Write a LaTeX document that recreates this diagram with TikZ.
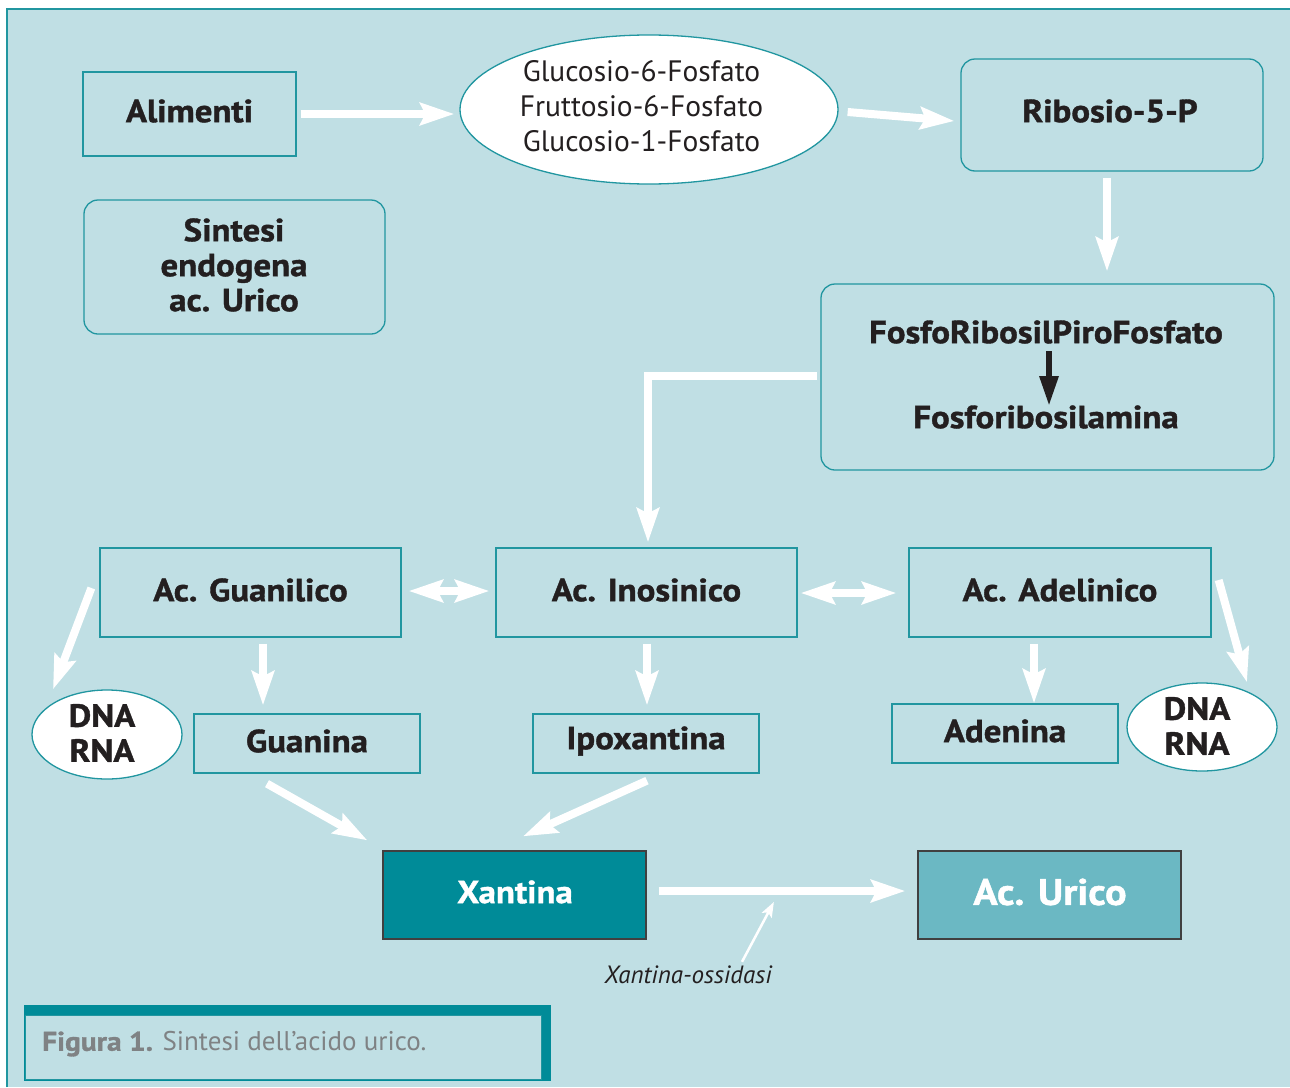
\documentclass[tikz,border=0pt]{standalone}
\usepackage{fontspec}
\setmainfont{PT Sans}[BoldFeatures={FakeStretch=1.09,FakeBold=1.2}]
\usetikzlibrary{shapes.geometric,arrows.meta,calc}
\definecolor{panel}{HTML}{C0DFE4}
\definecolor{tealline}{HTML}{2196A0}
\definecolor{xantfill}{HTML}{008B98}
\definecolor{uricofill}{HTML}{6BB8C3}
\definecolor{capgray}{HTML}{7F8284}
\definecolor{txt}{HTML}{231F20}
\begin{document}
\begin{tikzpicture}[x=1pt,y=-1pt,
  sbox/.style={draw=tealline, line width=1.3pt, inner sep=0pt, text=txt,
    font=\fontsize{32}{35}\selectfont\bfseries, align=center},
  rbox/.style={sbox, rounded corners=14pt},
  oval/.style={ellipse, draw=tealline, line width=1.3pt, fill=white, inner sep=0pt, text=txt, align=center},
  darkbox/.style={draw=black!75, line width=1.3pt, inner sep=0pt, text=white,
    font=\fontsize{32}{35}\selectfont\bfseries},
  lbl/.style={inner sep=0pt, text=txt, font=\fontsize{32}{35}\selectfont\bfseries},
  warrow/.style={draw=white, line width=8pt, -{Stealth[length=34pt,width=22pt,inset=5pt]}},
  wdouble/.style={draw=white, line width=8pt, {Stealth[length=34pt,width=22pt,inset=5pt]}-{Stealth[length=34pt,width=22pt,inset=5pt]}},
  barrow/.style={draw=txt, line width=6pt, -{Triangle[length=30pt,width=18pt]}},
  thinarrow/.style={draw=white, line width=2.5pt, -{Stealth[length=15pt,width=11pt,inset=3pt]}}
]
\useasboundingbox (0,0) rectangle (1290,1087);
\fill[white] (0,0) rectangle (1290,1087);
\fill[panel] (7,9) rectangle (1290,1087);
\draw[tealline, line width=1.5pt] (7,1087) -- (7,9) -- (1290,9);

% top row
\node[sbox, minimum width=213pt, minimum height=84pt] (alim) at (189.5,114) {};
\node[lbl] (alimT) at (189.5,111) {Alimenti};
\node[oval, minimum width=378pt, minimum height=149pt] (ell) at (649,109.5) {};
\node[inner sep=0pt, text=txt, align=center, font=\fontsize{29.5}{35}\selectfont] (ellT) at (641.5,106)
  {Glucosio-6-Fosfato\\Fruttosio-6-Fosfato\\Glucosio-1-Fosfato};
\node[rbox, minimum width=302pt, minimum height=112pt] (rib) at (1112,115) {};
\node[lbl] (ribT) at (1110,111) {Ribosio-5-P};
\node[rbox, minimum width=301pt, minimum height=134pt] (sint) at (234.5,267) {};
\node[lbl, align=center] (sintT) at (234,265) {Sintesi\\endogena\\ac. Urico};

% FRPP box
\node[rbox, minimum width=453pt, minimum height=186pt] (frpp) at (1047.5,377) {};
\node[lbl] (frppA) at (1046,332) {FosfoRibosilPiroFosfato};
\node[lbl] (frppB) at (1046,417) {Fosforibosilamina};
\draw[barrow] ($(frppA.center)+(3,19)$) -- ($(frppB.center)+(3,-11)$);

% middle row
\node[sbox, minimum width=301pt, minimum height=89pt] (guan) at (250.5,592.5) {};
\node[lbl] (guanT) at (250.5,590) {Ac. Guanilico};
\node[sbox, minimum width=301pt, minimum height=89pt] (inos) at (646.5,592.5) {};
\node[lbl] (inosT) at (646.5,590) {Ac. Inosinico};
\node[sbox, minimum width=302pt, minimum height=89pt] (adel) at (1060,592.5) {};
\node[lbl] (adelT) at (1060,590) {Ac. Adelinico};

% bases
\node[oval, minimum width=150pt, minimum height=89pt] (dnaL) at (107,734.5) {};
\node[lbl, align=center] (dnaLT) at (102,733) {DNA\\RNA};
\node[sbox, minimum width=226pt, minimum height=59pt] (guanina) at (307,743.5) {};
\node[lbl] (guaninaT) at (307,741) {Guanina};
\node[sbox, minimum width=226pt, minimum height=59pt] (ipox) at (646,743.5) {};
\node[lbl] (ipoxT) at (646,741) {Ipoxantina};
\node[sbox, minimum width=226pt, minimum height=59pt] (aden) at (1005,733.5) {};
\node[lbl] (adenT) at (1005,731) {Adenina};
\node[oval, minimum width=150pt, minimum height=88pt] (dnaR) at (1202,727) {};
\node[lbl, align=center] (dnaRT) at (1197,726) {DNA\\RNA};

% bottom
\node[darkbox, fill=xantfill, minimum width=263pt, minimum height=88pt] (xant) at (514.5,895) {};
\node[lbl, text=white] (xantT) at (515,892) {Xantina};
\node[darkbox, fill=uricofill, minimum width=263pt, minimum height=88pt] (urico) at (1049.5,895) {};
\node[lbl, text=white, font=\fontsize{37}{40}\selectfont\bfseries] (uricoT) at (1050,892) {Ac. Urico};
\node[inner sep=0pt, text=txt, font=\fontsize{25}{28}\selectfont\itshape] (enz) at (688,975) {Xantina-ossidasi};

% arrows
\draw[warrow] ($(alim.east)+(4,0)$) -- ($(ell.west)+(-5,4.5)$);
\draw[warrow] ($(ell.east)+(9,2.5)$) -- ($(rib.west)+(-6,6)$);
\draw[warrow] ($(rib.south)+(-5,6)$) -- ($(frpp.north)+(59.5,-12)$);
\draw[warrow] ($(frpp.west)+(-3,-1)$) -| ($(inos.north)+(1.5,-5)$);
\draw[wdouble] ($(guan.east)+(7,-1.5)$) -- ($(inos.west)+(-6,-1.5)$);
\draw[wdouble] ($(inos.east)+(3,0.5)$) -- ($(adel.west)+(-12,0.5)$);
\draw[warrow] ($(guan.west)+(-8,-4.5)$) -- ($(dnaL.north)+(-54,0)$);
\draw[warrow] ($(guan.south)+(12.5,6)$) -- ($(guanina.north)+(-44,-8)$);
\draw[warrow] ($(inos.south)+(0.5,6)$) -- ($(ipox.north)+(1,-8)$);
\draw[warrow] ($(adel.south)+(-26,6)$) -- ($(aden.north)+(29,0)$);
\draw[warrow] ($(adel.east)+(7,-12.5)$) -- ($(dnaR.north)+(45,0)$);
\draw[warrow] ($(guanina.south)+(-40,10)$) -- ($(xant.north west)+(-15,-10)$);
\draw[warrow] ($(ipox.south)+(1,7)$) -- ($(xant.north)+(8.5,-14)$);
\draw[warrow] ($(xant.east)+(12,-4)$) -- ($(urico.west)+(-12,-4)$);
\coordinate (enzend) at ($(xant.east)!0.47!(urico.west)+(0,7)$);
\draw[thinarrow] ($(enz.north)+(54,-4)$) -- (enzend);

% caption
\fill[xantfill] (24,1005) rectangle (551,1081);
\filldraw[fill=panel, draw=tealline, line width=1pt] (25,1015) rectangle (541,1079);
\node[anchor=west, inner sep=0pt, text=capgray, font=\fontsize{27}{30}\selectfont] (cap) at (42,1044)
  {\textbf{Figura 1.} Sintesi dell’acido urico.};
\end{tikzpicture}
\end{document}
